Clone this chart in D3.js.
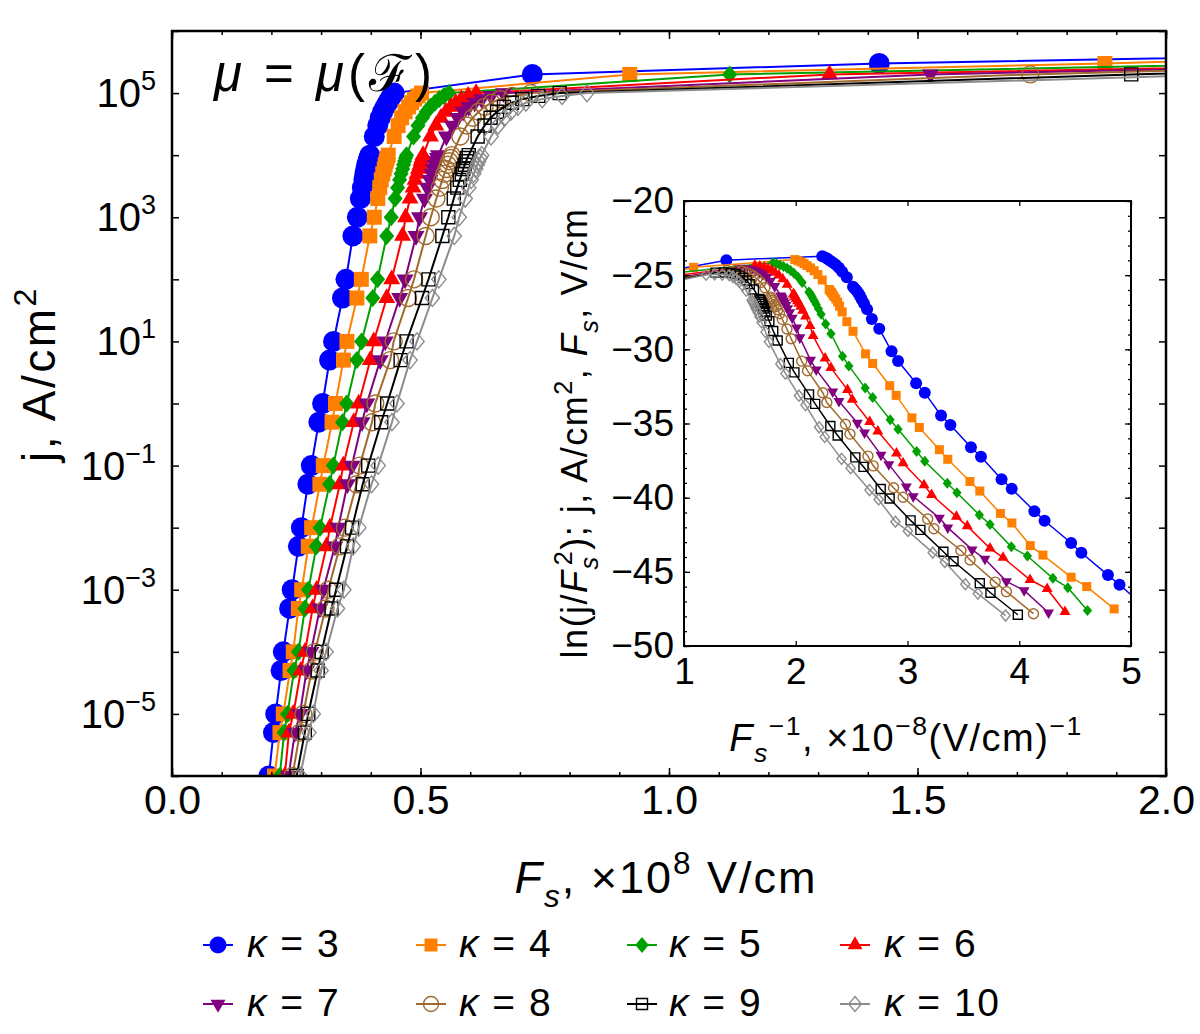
<!DOCTYPE html>
<html>
<head>
<meta charset="utf-8">
<script src="https://cdn.jsdelivr.net/npm/d3@7"></script>
<style>
  body { margin: 0; background: #fff; }
  text { font-family: "Liberation Sans", Arial, sans-serif; fill: #000; }
</style>
</head>
<body>
<div id="chart"></div>
<script>
// current density levels shared by all curves, A/cm^2
const jLevels = [1e-6, 5e-6, 1e-5, 5e-5, 1e-4, 5e-4, 1e-3, 5e-3, 1e-2, 5e-2, 1e-1, 5e-1, 1, 5, 10, 50, 100, 500,
  1e3, 2e3, 3e3, 4e3, 5e3, 6e3, 7e3, 8e3, 9e3, 1e4, 2e4, 3e4, 4e4, 5e4, 6e4, 7e4, 8e4, 9e4, 1e5, 2e5, 3e5, 4e5];

// surface field F_s (x1e8 V/cm) at each j level, one list per kappa
const fK3 = [0.195, 0.2042, 0.2086, 0.2195, 0.2240, 0.2366, 0.2418, 0.2543, 0.2603, 0.2734, 0.2803, 0.2955, 0.3030, 0.3170, 0.3250, 0.3430, 0.3500, 0.3640, 0.3730,
  0.379, 0.383, 0.386, 0.388, 0.390, 0.392, 0.394, 0.396, 0.398, 0.407, 0.414, 0.419, 0.424, 0.429, 0.434, 0.438, 0.442, 0.447, 0.725, 1.423, 2.29];
const fK4 = [0.2062, 0.2172, 0.2240, 0.2374, 0.2440, 0.2542, 0.2610, 0.2742, 0.2810, 0.2976, 0.3044, 0.3220, 0.3290, 0.3450, 0.3520, 0.3720, 0.3810, 0.3980, 0.4070,
  0.414, 0.418, 0.421, 0.424, 0.427, 0.429, 0.431, 0.433, 0.435, 0.447, 0.455, 0.462, 0.469, 0.476, 0.482, 0.488, 0.495, 0.502, 0.921, 1.877, 2.43];
const fK5 = [0.2169, 0.2255, 0.2325, 0.2455, 0.2545, 0.2675, 0.2745, 0.2905, 0.2980, 0.3170, 0.3245, 0.3430, 0.3515, 0.3720, 0.3815, 0.4040, 0.4135, 0.4320, 0.4410,
  0.449, 0.454, 0.458, 0.461, 0.464, 0.466, 0.468, 0.470, 0.472, 0.486, 0.495, 0.504, 0.512, 0.520, 0.529, 0.538, 0.547, 0.557, 1.122, 2.23, 3.3];
const fK6 = [0.2268, 0.2353, 0.2441, 0.2594, 0.2675, 0.2829, 0.2909, 0.3110, 0.3177, 0.3378, 0.3446, 0.3657, 0.3757, 0.3990, 0.4060, 0.4320, 0.4420, 0.4640, 0.4700,
  0.479, 0.485, 0.489, 0.493, 0.496, 0.499, 0.501, 0.503, 0.505, 0.520, 0.531, 0.541, 0.551, 0.561, 0.571, 0.582, 0.596, 0.612, 1.323, 2.52, 3.7];
const fK7 = [0.2346, 0.2473, 0.2574, 0.2708, 0.2795, 0.2976, 0.3044, 0.3277, 0.3345, 0.3530, 0.3620, 0.3823, 0.3920, 0.4190, 0.4290, 0.4580, 0.4690, 0.4910, 0.4980,
  0.508, 0.514, 0.519, 0.523, 0.526, 0.529, 0.532, 0.534, 0.536, 0.552, 0.564, 0.575, 0.586, 0.597, 0.609, 0.623, 0.642, 0.667, 1.526, 2.58, 3.8];
const fK8 = [0.2423, 0.2574, 0.2642, 0.2809, 0.2875, 0.3090, 0.3144, 0.3378, 0.3478, 0.3713, 0.3779, 0.4024, 0.4090, 0.4390, 0.4460, 0.4750, 0.4870, 0.5105, 0.5206,
  0.532, 0.539, 0.544, 0.548, 0.552, 0.555, 0.558, 0.561, 0.563, 0.580, 0.593, 0.605, 0.617, 0.629, 0.643, 0.660, 0.685, 0.722, 1.727, 2.54, 3.6];
const fK9 = [0.2508, 0.2672, 0.2742, 0.2931, 0.3011, 0.3210, 0.3303, 0.3521, 0.3623, 0.3837, 0.3948, 0.4210, 0.4330, 0.4600, 0.4720, 0.5030, 0.5160, 0.5440, 0.5560,
  0.567, 0.574, 0.579, 0.583, 0.586, 0.589, 0.592, 0.594, 0.597, 0.615, 0.629, 0.641, 0.654, 0.668, 0.684, 0.705, 0.737, 0.780, 1.93, 2.7, 3.9];
const fK10 = [0.2579, 0.2755, 0.2843, 0.3000, 0.3100, 0.3330, 0.3458, 0.3647, 0.3759, 0.4014, 0.4149, 0.4426, 0.4527, 0.4790, 0.4930, 0.5240, 0.5370, 0.5680, 0.5780,
  0.590, 0.597, 0.602, 0.607, 0.611, 0.614, 0.617, 0.620, 0.623, 0.642, 0.656, 0.669, 0.682, 0.696, 0.712, 0.745, 0.785, 0.835, 2.13, 3.0, 4.0];

const kappas = [3, 4, 5, 6, 7, 8, 9, 10];
const fields = [fK3, fK4, fK5, fK6, fK7, fK8, fK9, fK10];
const colors = ["#0000ff", "#ff8000", "#00a000", "#ff0000", "#800080", "#a0692d", "#000000", "#8c8c8c"];
const shapes = ["circle", "square", "diamond", "triUp", "triDown", "circleOpen", "squareOpen", "diamondOpen"];

const xTicksMain = [0, 0.5, 1, 1.5, 2];
const yExpMain = [-5, -3, -1, 1, 3, 5];
const xTicksInset = [1, 2, 3, 4, 5];
const yTicksInset = [-50, -45, -40, -35, -30, -25, -20];

const series = kappas.map((k, i) => ({
  k, color: colors[i], shape: shapes[i],
  points: jLevels.map((j, n) => ({ j, F: fields[i][n] }))
}));

const svg = d3.select("#chart").append("svg")
  .attr("width", 1200).attr("height", 1034);

// marker sizes (main, inset, legend) by shape
const sizes = {
  circle: [21, 12, 17], square: [15, 9, 13], diamond: [18, 11, 16], triUp: [17, 11, 15], triDown: [17, 11, 15],
  circleOpen: [17, 10, 15], squareOpen: [13, 9, 11], diamondOpen: [17, 11, 15]
};

function markerPath(shape, s) {
  if (shape.startsWith("circle")) return d3.symbol(d3.symbolCircle, Math.PI * s * s / 4)();
  if (shape.startsWith("square")) return d3.symbol(d3.symbolSquare, s * s)();
  if (shape.startsWith("diamond")) {
    const w = s * 0.42, h = s * 0.5;
    return `M0,${-h}L${w},0L0,${h}L${-w},0Z`;
  }
  return d3.symbol(d3.symbolTriangle, 0.433 * s * s)();
}

function drawMarkers(g, sr, pts, px, py, s) {
  const open = sr.shape.endsWith("Open");
  const rot = sr.shape === "triDown" ? " rotate(180)" : "";
  g.selectAll(null).data(pts).enter().append("path")
    .attr("d", markerPath(sr.shape, s))
    .attr("transform", d => `translate(${px(d)},${py(d)})${rot}`)
    .attr("fill", open ? "none" : sr.color)
    .attr("stroke", open ? sr.color : "none")
    .attr("stroke-width", open ? 1.4 : 0);
}

// rich text with italic / sub / sup pieces
function rich(textSel, parts, fs) {
  let shift = 0;
  parts.forEach(p => {
    const want = p.sub ? 0.3 * fs : p.sup ? -0.42 * fs : 0;
    const ts = textSel.append("tspan").text(p.t)
      .attr("dy", want - shift)
      .style("font-size", (p.sub || p.sup) ? (0.7 * fs) + "px" : fs + "px");
    if (p.it) ts.style("font-style", "italic");
    if (p.dx) ts.attr("dx", p.dx);
    shift = want;
  });
}

// ---------- main plot ----------
const x = d3.scaleLinear().domain([0, 2]).range([172, 1166]);
const y = d3.scaleLog().domain([1e-6, 1e6]).range([776, 31]);

svg.append("clipPath").attr("id", "clipMain")
  .append("rect").attr("x", 172).attr("y", 31).attr("width", 994).attr("height", 745);

const plot = svg.append("g").attr("clip-path", "url(#clipMain)");
series.forEach(sr => {
  plot.append("path").datum(sr.points)
    .attr("fill", "none").attr("stroke", sr.color).attr("stroke-width", 2)
    .attr("d", d3.line().x(d => x(d.F)).y(d => y(d.j)));
  drawMarkers(plot, sr, sr.points, d => x(d.F), d => y(d.j), sizes[sr.shape][0]);
});

// ticks
const decades = d3.range(-6, 7).map(e => Math.pow(10, e));
const mainAxes = svg.append("g");
mainAxes.append("g").attr("transform", "translate(0,776)")
  .call(d3.axisBottom(x).tickValues(d3.range(0, 2.001, 0.1)).tickSize(-4).tickFormat(""));
mainAxes.append("g").attr("transform", "translate(0,776)")
  .call(d3.axisBottom(x).tickValues(xTicksMain).tickSize(-8).tickPadding(9).tickFormat(d3.format(".1f")));
mainAxes.append("g").attr("transform", "translate(0,31)")
  .call(d3.axisTop(x).tickValues(d3.range(0, 2.001, 0.1)).tickSize(-4).tickFormat(""));
mainAxes.append("g").attr("transform", "translate(0,31)")
  .call(d3.axisTop(x).tickValues(xTicksMain).tickSize(-8).tickFormat(""));
mainAxes.append("g").attr("transform", "translate(172,0)")
  .call(d3.axisLeft(y).tickValues(decades).tickSize(-7).tickFormat(""));
mainAxes.append("g").attr("transform", "translate(1166,0)")
  .call(d3.axisRight(y).tickValues(decades).tickSize(-7).tickFormat(""));
mainAxes.selectAll(".domain").remove();
mainAxes.selectAll(".tick line").attr("stroke", "#000").attr("stroke-width", 1.5);
mainAxes.selectAll(".tick text").style("font-size", "41px").attr("fill", "#000")
  .style("font-family", "'Liberation Sans', Arial, sans-serif");

yExpMain.forEach(e => {
  const t = svg.append("text").attr("x", 156).attr("y", y(Math.pow(10, e)) + 14)
    .attr("text-anchor", "end");
  t.append("tspan").text("10").style("font-size", "40px");
  t.append("tspan").text(e < 0 ? "\u2212" + (-e) : String(e)).attr("dy", -17).style("font-size", "27px");
});

svg.append("rect").attr("x", 172).attr("y", 31).attr("width", 994).attr("height", 745)
  .attr("fill", "none").attr("stroke", "#000").attr("stroke-width", 2.5);

// axis titles
const xt = svg.append("text").attr("x", 666).attr("y", 893).attr("text-anchor", "middle")
  .style("letter-spacing", "2px");
rich(xt, [{ t: "F", it: true }, { t: "s", it: true, sub: true }, { t: ", \u00d710" }, { t: "8", sup: true }, { t: " V/cm" }], 45);

const yt = svg.append("text").attr("transform", "translate(55,374) rotate(-90)").attr("text-anchor", "middle")
  .style("letter-spacing", "2.5px");
rich(yt, [{ t: "j, A/cm" }, { t: "2", sup: true }], 46);

const mu = svg.append("text").attr("x", 214).attr("y", 91).style("letter-spacing", "4px");
rich(mu, [{ t: "\u03bc", it: true }, { t: " = " }, { t: "\u03bc", it: true }, { t: "(" }, { t: "\u2131" }, { t: ")" }], 51);

// ---------- inset ----------
const xi = d3.scaleLinear().domain([1, 5]).range([684, 1131]);
const yi = d3.scaleLinear().domain([-50, -20]).range([646, 201]);

svg.append("rect").attr("x", 684).attr("y", 201).attr("width", 447).attr("height", 445).attr("fill", "#fff");
svg.append("clipPath").attr("id", "clipInset")
  .append("rect").attr("x", 684).attr("y", 201).attr("width", 447).attr("height", 445);

const inset = svg.append("g").attr("clip-path", "url(#clipInset)");
series.forEach(sr => {
  const pts = sr.points.map(p => ({ u: 1 / p.F, v: Math.log(p.j) - 2 * Math.log(p.F * 1e8) }));
  inset.append("path").datum(pts)
    .attr("fill", "none").attr("stroke", sr.color).attr("stroke-width", 1.5)
    .attr("d", d3.line().x(d => xi(d.u)).y(d => yi(d.v)));
  drawMarkers(inset, sr, pts, d => xi(d.u), d => yi(d.v), sizes[sr.shape][1]);
});

const ia = svg.append("g");
ia.append("g").attr("transform", "translate(0,646)")
  .call(d3.axisBottom(xi).tickValues(xTicksInset).tickSize(-5).tickPadding(12).tickFormat(d3.format("d")));
ia.append("g").attr("transform", "translate(0,201)")
  .call(d3.axisTop(xi).tickValues(xTicksInset).tickSize(-5).tickFormat(""));
ia.append("g").attr("transform", "translate(684,0)")
  .call(d3.axisLeft(yi).tickValues(d3.range(-50, -19, 1)).tickSize(-3).tickFormat(""));
ia.append("g").attr("transform", "translate(684,0)")
  .call(d3.axisLeft(yi).tickValues(yTicksInset).tickSize(-6).tickPadding(10).tickFormat(d => "\u2212" + (-d)));
ia.append("g").attr("transform", "translate(1131,0)")
  .call(d3.axisRight(yi).tickValues(d3.range(-50, -19, 1)).tickSize(-3).tickFormat(""));
ia.append("g").attr("transform", "translate(1131,0)")
  .call(d3.axisRight(yi).tickValues(yTicksInset).tickSize(-6).tickFormat(""));
ia.selectAll(".domain").remove();
ia.selectAll(".tick line").attr("stroke", "#000").attr("stroke-width", 1.3);
ia.selectAll(".tick text").style("font-size", "37px").attr("fill", "#000")
  .style("font-family", "'Liberation Sans', Arial, sans-serif");

svg.append("rect").attr("x", 684).attr("y", 201).attr("width", 447).attr("height", 445)
  .attr("fill", "none").attr("stroke", "#000").attr("stroke-width", 2);

const ixt = svg.append("text").attr("x", 906).attr("y", 751).attr("text-anchor", "middle")
  .style("letter-spacing", "1.5px");
rich(ixt, [{ t: "F", it: true }, { t: "s", it: true, sub: true }, { t: "\u22121", sup: true }, { t: ", \u00d710" },
  { t: "\u22128", sup: true }, { t: "(V/cm)" }, { t: "\u22121", sup: true }], 38);

const iyt = svg.append("text").attr("transform", "translate(587,433) rotate(-90)").attr("text-anchor", "middle")
  .style("letter-spacing", "1.5px");
rich(iyt, [{ t: "ln(j/" }, { t: "F", it: true }, { t: "s", it: true, sub: true }, { t: "2", sup: true, dx: -10 },
  { t: "); j, A/cm" }, { t: "2", sup: true }, { t: ", " }, { t: "F", it: true }, { t: "s", it: true, sub: true }, { t: ",  V/cm" }], 36);

// ---------- legend ----------
const legCx = [218, 431, 642, 855];
const legTx = [247, 459, 669, 884];
const legCy = [945, 1004];
series.forEach((sr, i) => {
  const col = i % 4, row = Math.floor(i / 4);
  const g = svg.append("g");
  g.append("line").attr("x1", legCx[col] - 15).attr("x2", legCx[col] + 15)
    .attr("y1", legCy[row]).attr("y2", legCy[row]).attr("stroke", sr.color).attr("stroke-width", 2);
  drawMarkers(g, sr, [0], () => legCx[col], () => legCy[row], sizes[sr.shape][2]);
  const t = g.append("text").attr("x", legTx[col]).attr("y", legCy[row] + 12).style("letter-spacing", "1.5px");
  rich(t, [{ t: "\u03ba", it: true }, { t: " = " + sr.k }], 39);
});
</script>
</body>
</html>
